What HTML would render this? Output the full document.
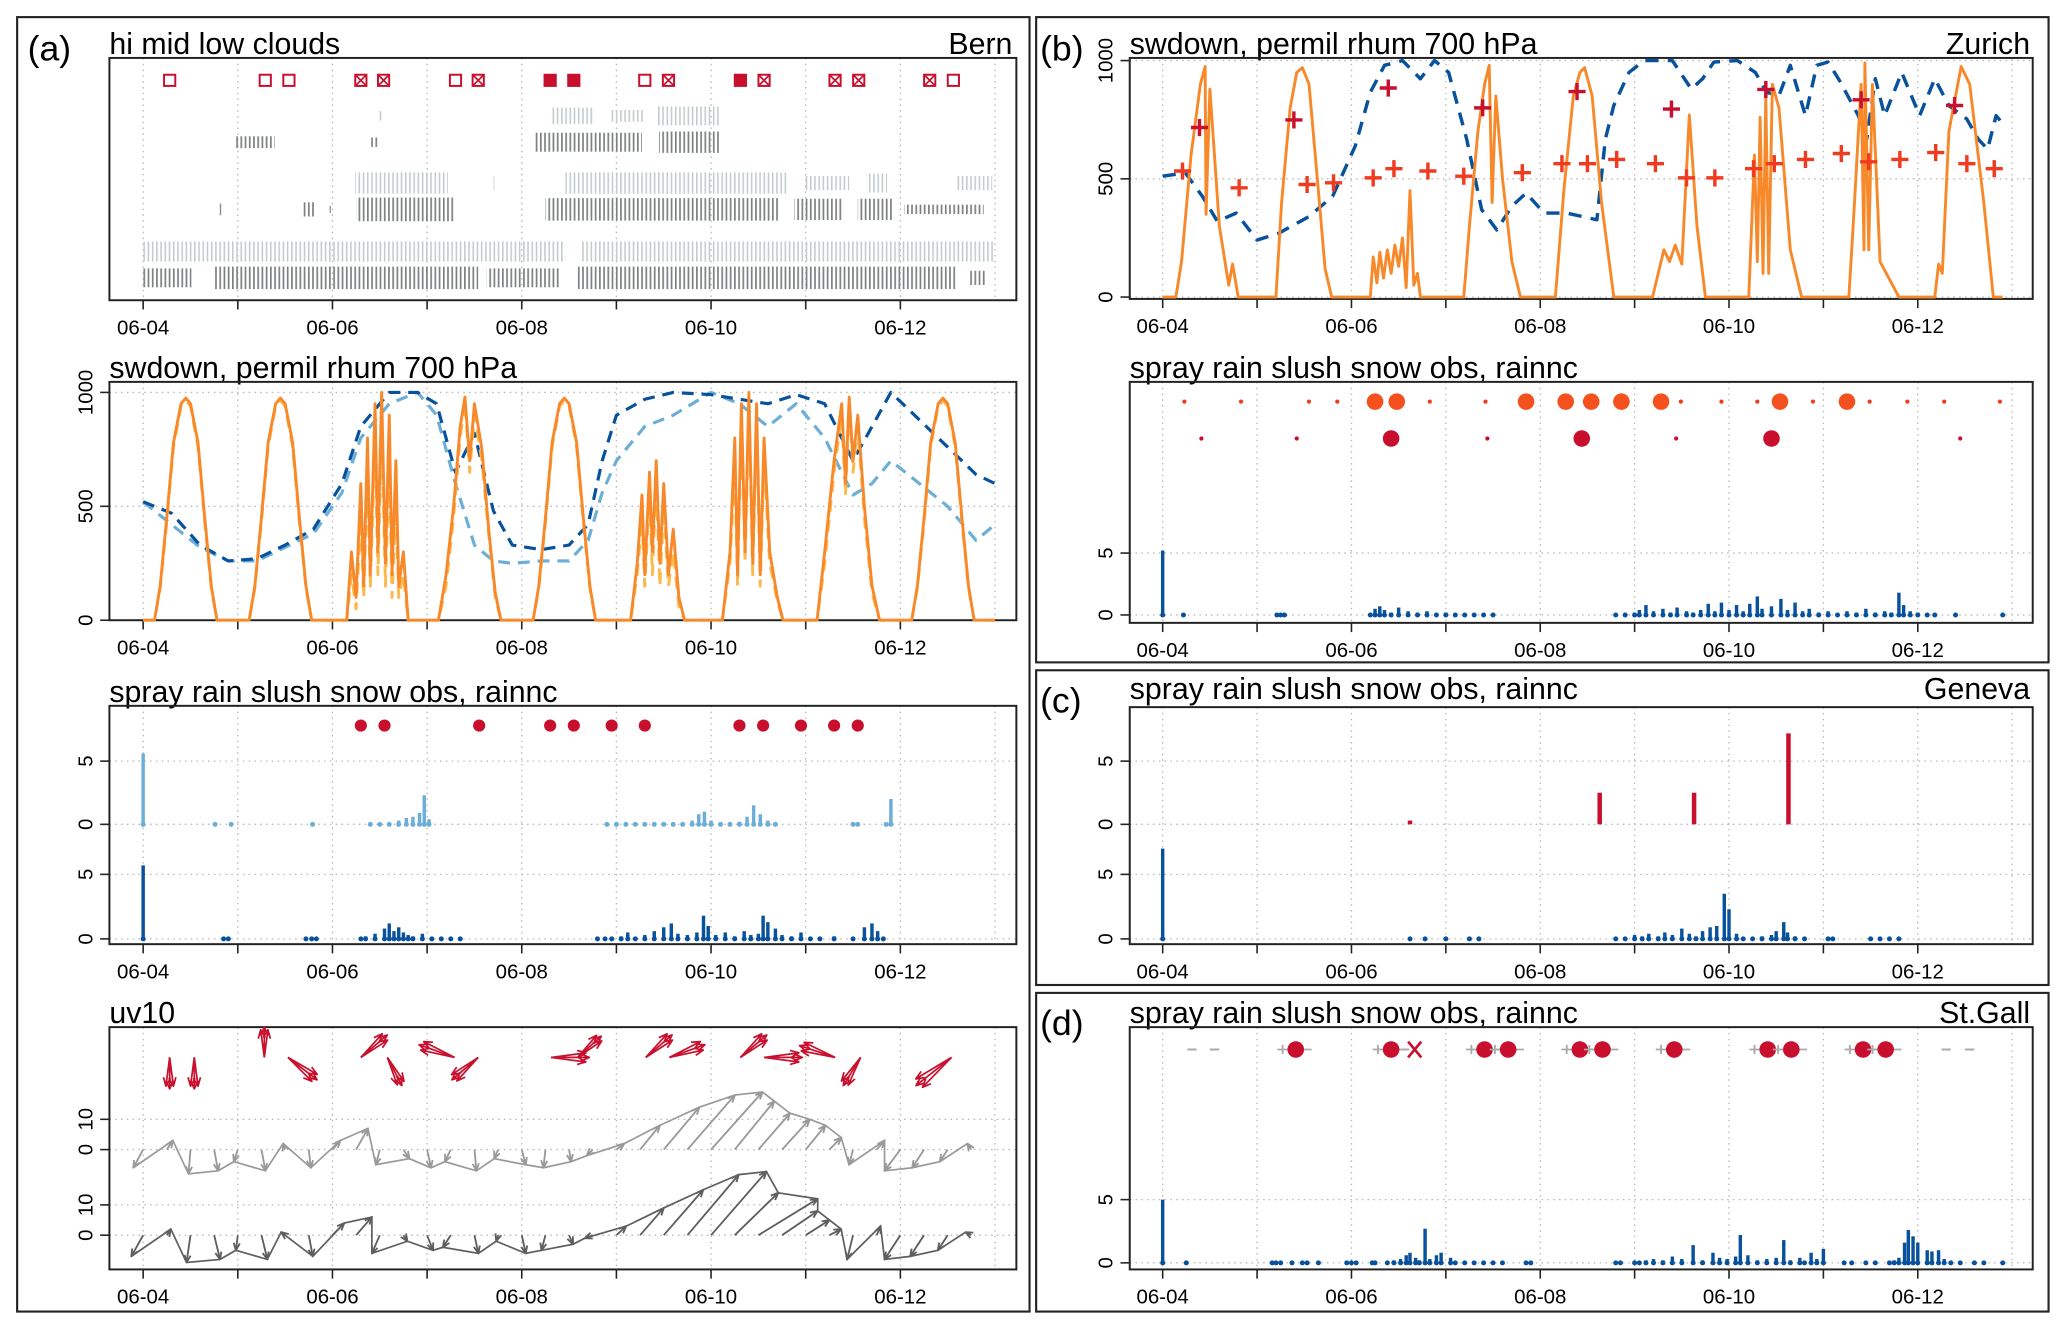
<!DOCTYPE html>
<html><head><meta charset="utf-8"><title>Weather panels</title>
<style>
html,body{margin:0;padding:0;background:#fff;}
svg{display:block;font-family:"Liberation Sans",Arial,sans-serif;}
</style></head>
<body>
<svg id="chart" width="2067" height="1330" viewBox="0 0 1568 1010" preserveAspectRatio="none" xmlns="http://www.w3.org/2000/svg">
<defs>
<pattern id="pl" width="3.2" height="40" patternUnits="userSpaceOnUse"><rect width="1.2" height="40" fill="#c3cccc"/></pattern>
<pattern id="pd" width="3.2" height="40" patternUnits="userSpaceOnUse"><rect width="1.3" height="40" fill="#7d8181"/></pattern>
</defs>
<rect x="0" y="0" width="1568" height="1010" fill="#fff"/>
<rect x="13" y="13" width="768" height="983" fill="none" stroke="#222" stroke-width="1.6"/>
<rect x="786" y="13" width="768" height="490" fill="none" stroke="#222" stroke-width="1.6"/>
<rect x="786" y="509" width="768" height="239" fill="none" stroke="#222" stroke-width="1.6"/>
<rect x="786" y="754" width="768" height="242" fill="none" stroke="#222" stroke-width="1.6"/>
<text x="21" y="46" font-size="27">(a)</text>
<text x="789" y="46" font-size="27">(b)</text>
<text x="789" y="541" font-size="27">(c)</text>
<text x="789" y="786" font-size="27">(d)</text>
<text x="83" y="41" font-size="23">hi mid low clouds</text>
<text x="768" y="41" font-size="23" text-anchor="end">Bern</text>
<text x="83" y="287" font-size="23">swdown, permil rhum 700 hPa</text>
<text x="83" y="533" font-size="23">spray rain slush snow obs, rainnc</text>
<text x="83" y="777" font-size="23">uv10</text>
<text x="857" y="41" font-size="23">swdown, permil rhum 700 hPa</text>
<text x="1540" y="41" font-size="23" text-anchor="end">Zurich</text>
<text x="857" y="287" font-size="23">spray rain slush snow obs, rainnc</text>
<text x="857" y="531" font-size="23">spray rain slush snow obs, rainnc</text>
<text x="1540" y="531" font-size="23" text-anchor="end">Geneva</text>
<text x="857" y="777" font-size="23">spray rain slush snow obs, rainnc</text>
<text x="1540" y="777" font-size="23" text-anchor="end">St.Gall</text>
</svg>
<script>
// ---------------- DATA ----------------
const dateLabels = ["06-04","06-06","06-08","06-10","06-12"];
const dateLabelDays = [0,2,4,6,8];
const swTicks = [0,500,1000];
const rainTicks = [0,5];
const windTicks = [0,10];

// clouds: [startDay, endDay, coverFraction]
const cloudHiLight = [[2.48,2.53,0.4],[4.31,4.77,0.7],[4.93,5.30,0.5],[5.42,6.10,0.8]];
const cloudHiDark = [[0.96,1.39,0.5],[2.40,2.49,0.4],[4.14,5.27,0.8],[5.45,6.10,0.9]];
const cloudMidLight = [[2.24,3.22,0.9],[3.68,3.71,0.6],[4.46,6.81,0.9],[6.98,7.46,0.6],[7.64,7.86,0.8],[8.6,8.97,0.6]];
const cloudMidDark = [[0.81,0.84,0.5],[1.69,1.81,0.6],[1.97,2.0,0.3],[2.25,3.29,1.0],[4.25,6.72,0.95],[6.88,7.40,0.9],[7.55,7.92,0.9],[8.04,8.88,0.4]];
const cloudLowLight = [[0,4.46,0.85],[4.62,9.0,0.85]];
const cloudLowDark = [[0,0.51,0.8],[0.75,3.54,0.95],[3.63,4.40,0.8],[4.59,8.60,0.95],[8.72,8.90,0.6]];
const cloudObsDays = [0.28,1.29,1.54,2.3,2.54,3.3,3.54,4.3,4.55,5.3,5.55,6.31,6.56,7.31,7.56,8.31,8.56];
const cloudObsType = [0,0,0,1,1,0,1,2,2,0,1,2,1,1,1,1,0];

// panel a swdown
const swTimesA = [0,0.12,0.18,0.25,0.32,0.4,0.45,0.5,0.58,0.65,0.72,0.78,
 1.12,1.18,1.25,1.32,1.4,1.45,1.5,1.58,1.65,1.72,1.78,
 2.15,2.2,2.25,2.3,2.33,2.37,2.4,2.45,2.48,2.52,2.56,2.6,2.63,2.67,2.7,2.75,2.8,
 3.12,3.2,3.28,3.35,3.4,3.45,3.5,3.58,3.65,3.72,3.78,
 4.12,4.18,4.25,4.32,4.4,4.45,4.5,4.58,4.65,4.72,4.78,
 5.15,5.22,5.27,5.3,5.35,5.38,5.42,5.46,5.5,5.55,5.6,5.66,5.72,
 6.12,6.2,6.25,6.28,6.32,6.36,6.4,6.44,6.48,6.52,6.56,6.62,6.7,6.76,
 7.12,7.2,7.3,7.38,7.42,7.46,7.5,7.55,7.62,7.7,7.78,
 8.12,8.18,8.25,8.32,8.4,8.45,8.5,8.58,8.65,8.72,8.78,9.0];
const swModelA = [0,0,150,450,780,950,975,950,780,450,150,0,
 0,150,450,780,950,975,950,780,450,150,0,
 0,300,100,600,150,800,200,950,300,1000,250,900,200,700,150,300,0,
 0,200,500,850,980,700,950,750,400,120,0,
 0,150,450,780,950,975,950,780,450,150,0,
 0,250,550,200,650,300,700,250,600,200,400,100,0,
 0,300,800,200,950,300,1000,250,950,200,800,300,100,0,
 0,300,700,950,600,980,700,900,500,150,0,
 0,150,450,780,950,975,950,780,450,150,0,0];
const swModelA2 = [0,0,140,430,760,940,965,940,760,430,140,0,
 0,140,430,760,940,965,940,760,430,140,0,
 0,200,50,450,100,650,150,800,200,850,150,700,100,500,100,200,0,
 0,150,450,800,960,650,900,700,380,100,0,
 0,140,430,760,940,965,940,760,430,140,0,
 0,200,450,150,550,200,600,150,500,150,300,60,0,
 0,250,700,150,900,250,950,200,900,150,700,250,80,0,
 0,250,650,900,550,950,650,850,450,120,0,
 0,140,430,760,940,965,940,760,430,140,0,0];
const rhumTimesA = [0,0.3,0.6,0.9,1.2,1.5,1.8,2.1,2.3,2.6,2.9,3.1,3.3,3.5,3.7,3.9,4.2,4.5,4.7,4.85,5.0,5.3,5.6,6.0,6.3,6.6,6.9,7.2,7.5,7.7,7.9,8.2,8.5,8.8,9.0];
const rhumModelA = [520,470,330,260,270,330,400,600,850,1000,1000,950,650,820,480,330,310,330,420,700,900,970,1000,990,970,950,990,950,700,850,1000,880,760,640,600];
const rhumModelA2 = [520,420,320,260,260,320,380,560,800,950,1000,900,600,330,260,250,260,260,350,560,700,850,900,1000,950,850,950,800,550,600,700,600,500,350,420];

// panel a precipitation: [day, mm]
const rainA1 = [[0,5.6],[0.76,0],[0.93,0],[1.79,0],[2.4,0],[2.5,0],[2.6,0],[2.7,0.3],[2.78,0.5],[2.85,0.6],[2.92,0.9],[2.97,2.3],[3.02,0.4],
 [4.9,0],[5.0,0],[5.1,0],[5.2,0],[5.3,0],[5.4,0],[5.5,0],[5.6,0],[5.7,0],[5.8,0.3],[5.87,0.8],[5.93,1.0],[6.0,0.3],[6.1,0],[6.2,0],[6.3,0.2],[6.38,0.6],[6.45,1.5],[6.52,0.8],[6.6,0.3],[6.68,0],[7.5,0],[7.55,0],[7.9,2.0],[7.85,0]];
const rainA2 = [[0,5.7],[0.85,0],[0.9,0],[1.72,0],[1.78,0],[1.83,0],[2.3,0],[2.35,0.2],[2.45,0.4],[2.55,0.8],[2.6,1.2],[2.65,0.6],[2.7,0.9],[2.75,0.5],[2.8,0.3],[2.85,0.2],[2.95,0.4],[3.05,0.1],[3.15,0],[3.25,0.1],[3.35,0],
 [4.8,0],[4.88,0],[4.95,0.1],[5.05,0.2],[5.12,0.5],[5.2,0.1],[5.3,0.3],[5.4,0.6],[5.5,0.9],[5.58,1.2],[5.65,0.4],[5.75,0.3],[5.85,0.5],[5.92,1.8],[5.97,1.0],[6.05,0.3],[6.15,0.5],[6.25,0.2],[6.35,0.6],[6.42,0.3],[6.5,0.4],[6.55,1.8],[6.6,1.3],[6.68,0.8],[6.75,0.3],[6.85,0.2],[6.95,0.5],[7.05,0.1],[7.15,0],[7.3,0.2],[7.5,0.1],[7.62,0.9],[7.7,1.2],[7.76,0.6],[7.82,0]];
const sprayDaysA = [2.3,2.55,3.55,4.3,4.55,4.95,5.3,6.3,6.55,6.95,7.3,7.55];

// panel a wind sticks (every 6 h, m/s)
const windDays = [0,0.25,0.5,0.75,1,1.25,1.5,1.75,2,2.25,2.5,2.75,3,3.25,3.5,3.75,4,4.25,4.5,4.75,5,5.25,5.5,5.75,6,6.25,6.5,6.75,7,7.25,7.5,7.75,8,8.25,8.5,8.75];
const wind1U = [-5,3,-1,2,-2,2,-1,1,4,6,-2,3,2,-3,1,-2,2,-1,1,-3,4,10,18,24,26,20,16,14,10,6,-2,4,-8,-6,-4,-2];
const wind1V = [-6,3,-8,-7,-4,-7,2,-6,3,7,-5,-3,-6,-4,-7,-3,-5,-6,-4,-2,2,8,14,18,19,16,12,10,8,4,-5,3,-7,-6,-4,2];
const wind2U = [-6,2,-2,3,-1,3,-2,2,6,8,-4,2,3,-4,2,-1,2,-2,2,-4,5,12,20,26,28,22,30,18,12,6,-3,2,-8,-7,-5,-3];
const wind2V = [-7,2,-9,-8,-5,-8,1,-7,4,6,-6,-2,-5,-4,-6,-2,-6,-5,-3,-1,3,9,15,20,21,14,12,8,5,2,-8,3,-8,-7,-5,1];
const obsWindDays = [0.28,0.54,1.28,1.53,2.3,2.58,3.29,3.54,4.31,4.59,5.31,5.56,6.31,6.56,7.31,7.58,8.54];
const obsWindU = [0,0,0,9.6,8.7,4.8,-11.7,-8.7,12.6,7.8,8.7,11.7,8.7,12.6,-11.7,-5.7,-11.7];
const obsWindV = [-10.4,-10.4,10,-7.4,7.4,-9.3,4.2,-7.4,0,7,7.4,4.2,7.4,0,3.9,-9.3,-9.3];

// panel b Zurich swdown
const swTimesB = [0,0.14,0.2,0.3,0.4,0.45,0.46,0.5,0.6,0.7,0.74,0.8,
 1.2,1.26,1.35,1.42,1.48,1.55,1.65,1.72,1.79,
 2.2,2.23,2.27,2.3,2.34,2.38,2.42,2.46,2.5,2.54,2.58,2.62,2.66,2.7,2.73,2.76,
 3.19,3.25,3.34,3.41,3.46,3.49,3.53,3.6,3.7,3.79,
 4.16,4.25,4.35,4.42,4.47,4.55,4.65,4.78,
 5.19,5.31,5.37,5.43,5.5,5.58,5.66,5.75,
 6.21,6.27,6.3,6.33,6.36,6.39,6.42,6.46,6.53,6.65,6.77,
 7.27,7.3,7.33,7.4,7.43,7.44,7.48,7.52,7.6,7.8,
 8.18,8.22,8.26,8.33,8.46,8.55,8.7,8.8,8.9];
const swModelB = [0,0,150,600,900,975,350,880,300,50,140,0,
 0,400,800,950,970,900,450,120,0,
 0,170,60,190,80,200,100,220,130,250,40,450,50,100,0,0,
 0,300,700,900,980,400,850,500,150,0,
 0,450,850,950,970,850,400,0,
 0,200,150,220,140,770,300,0,
 0,600,150,760,100,850,100,900,800,200,0,
 0,200,400,900,200,990,200,900,150,0,
 0,140,100,700,975,900,400,0,0];
const rhumTimesB = [0,0.24,0.42,0.58,0.78,1.0,1.23,1.55,1.8,2.04,2.2,2.35,2.54,2.73,2.88,3.03,3.22,3.38,3.54,3.7,3.85,4.04,4.28,4.6,4.69,4.78,4.94,5.1,5.4,5.6,5.72,5.84,6.09,6.28,6.4,6.53,6.65,6.81,6.93,7.05,7.18,7.37,7.46,7.55,7.65,7.83,8.02,8.18,8.33,8.52,8.64,8.74,8.83,8.89];
const rhumModelB = [511,525,426,320,355,241,270,341,426,639,866,980,1000,923,1000,950,668,369,284,384,440,355,355,327,668,810,950,1000,1000,880,923,994,1000,950,866,852,980,767,980,994,909,767,668,923,767,950,767,923,810,753,668,625,767,739];
const rhumObsDaysB = [0.21,0.81,1.53,1.81,2.23,2.45,2.81,3.19,3.81,4.23,4.5,4.81,5.22,5.55,5.85,6.26,6.48,6.81,7.19,7.48,7.81,8.19,8.52,8.81];
const rhumObsB = [533,462,476,483,504,543,533,511,526,564,564,582,564,504,504,543,564,582,607,572,582,611,564,543];
const rhumObs2DaysB = [0.39,1.39,2.39,3.39,4.39,5.39,6.39,7.4,8.39];
const rhumObs2B = [717,749,884,800,869,795,878,834,810];

// panel b spray observations
const sprayBSmall = [0.23,0.83,1.55,1.85,2.83,3.42,5.49,5.92,6.3,6.89,7.49,7.89,8.28,8.87];
const sprayBLarge = [2.25,2.48,3.85,4.27,4.54,4.86,5.28,6.54,7.25];
const sprayB2Small = [0.41,1.42,3.44,5.44,8.45];
const sprayB2Large = [2.42,4.44,6.45];
const rainB = [[0,5.2],[0.22,0],[1.21,0],[1.25,0],[1.29,0],[2.2,0],[2.25,0.5],[2.3,0.7],[2.35,0.4],[2.42,0.2],[2.5,0.6],[2.6,0.3],[2.7,0.2],[2.8,0.3],[2.9,0.1],[3.0,0.2],[3.1,0.1],[3.2,0],[3.3,0],[3.4,0],[3.5,0],
 [4.8,0],[4.9,0],[5.0,0.2],[5.05,0.4],[5.12,0.8],[5.2,0.3],[5.3,0.5],[5.38,0.2],[5.45,0.6],[5.55,0.3],[5.62,0.2],[5.7,0.4],[5.78,0.9],[5.85,0.3],[5.92,1.0],[6.0,0.4],[6.08,0.8],[6.15,0.3],[6.22,0.9],[6.3,1.5],[6.35,0.5],[6.45,0.7],[6.55,1.3],[6.62,0.4],[6.7,1.0],[6.78,0.3],[6.85,0.5],[6.95,0.2],[7.05,0.3],[7.15,0.1],[7.25,0.3],[7.35,0.2],[7.45,0.5],[7.55,0.2],[7.65,0.3],[7.72,0.2],[7.8,1.8],[7.85,0.8],[7.92,0.3],[8.0,0.2],[8.1,0.1],[8.18,0],[8.4,0],[8.9,0]];

// panel c Geneva
const rainC = [[0,7.0],[2.62,0],[2.78,0],[3.0,0],[3.25,0],[3.35,0],[4.8,0],[4.9,0],[5.0,0.3],[5.08,0.2],[5.15,0.4],[5.25,0.2],[5.32,0.5],[5.4,0.3],[5.5,0.8],[5.58,0.4],[5.65,0.2],[5.72,0.6],[5.8,0.9],[5.87,1.0],[5.95,3.5],[6.0,2.3],[6.08,0.4],[6.15,0],[6.25,0],[6.35,0.2],[6.45,0.3],[6.5,0.6],[6.58,1.3],[6.62,0.5],[6.7,0.2],[6.8,0],[7.05,0],[7.1,0],[7.5,0],[7.6,0],[7.7,0],[7.8,0]];
const redRainC = [[2.62,0.3],[4.63,2.5],[5.63,2.5],[6.63,7.2]];

// panel d St.Gall
const sprayDRed = [1.41,2.42,3.41,3.66,4.42,4.66,5.42,6.41,6.66,7.42,7.66];
const sprayDCross = [2.67];
const sprayDDash = [0.31,0.55,8.3,8.55];
const rainD = [[0,5.0],[0.25,0],[1.16,0],[1.2,0],[1.25,0],[1.37,0],[1.48,0],[1.53,0],[1.65,0],[1.95,0],[2.0,0],[2.05,0],[2.22,0],[2.25,0],[2.38,0],[2.45,0.2],[2.52,0.3],[2.58,0.6],[2.62,0.8],[2.68,0.4],[2.72,0.2],[2.78,2.7],[2.83,0.3],[2.9,0.6],[2.95,0.8],[3.05,0.4],[3.1,0],[3.2,0],[3.3,0],[3.4,0],[3.5,0],[3.6,0],[3.85,0],[3.9,0],
 [4.8,0],[4.85,0],[5.0,0],[5.05,0],[5.12,0.2],[5.2,0.3],[5.3,0.2],[5.4,0.5],[5.5,0.3],[5.62,1.4],[5.72,0.2],[5.83,0.8],[5.9,0.4],[5.98,0.3],[6.07,0.5],[6.12,2.2],[6.2,0.6],[6.3,0.2],[6.4,0.3],[6.5,0.4],[6.58,1.8],[6.65,0.2],[6.75,0.4],[6.8,0],[6.87,0.8],[6.93,0.3],[7.0,1.1],[7.22,0],[7.3,0],[7.45,0],[7.55,0],[7.7,0],[7.75,0.2],[7.8,0.4],[7.86,1.6],[7.9,2.6],[7.95,2.1],[8.0,1.6],[8.1,1.0],[8.15,0.9],[8.22,1.0],[8.28,0.3],[8.35,0],[8.45,0],[8.6,0],[8.7,0],[8.9,0]];

// ---------------- DRAWING ----------------
const NS = 'http://www.w3.org/2000/svg';
const svg = document.getElementById('chart');
function mk(tag, attrs, parent) {
  const e = document.createElementNS(NS, tag);
  for (const k in attrs) e.setAttribute(k, attrs[k]);
  (parent || svg).appendChild(e);
  return e;
}
function grp(name) {
  const g = mk('g', {});
  
  
  return g;
}
const PA = {x0:108.6, dx:71.8, left:83, right:771};
const PB = {x0:882, dx:71.6, left:857, right:1542};
function X(p, d) { return p.x0 + p.dx * d; }
function lin(v0, y0, v1, y1) { return v => y0 + (v - v0) * (y1 - y0) / (v1 - v0); }

function frame(p, top, bottom, name, yAxes) {
  const g = grp(name + '-axes');
  for (let d = 0; d <= 9; d++) {
    const gl = mk('line', {x1:X(p,d), x2:X(p,d), y1:top, y2:bottom, stroke:'#bbb', 'stroke-width':1, 'stroke-dasharray':'1.2,3.2'}, g);
    
    
  }
  (yAxes || []).forEach(ax => {
    ax.ticks.forEach((t, i) => {
      const y = ax.scale(t);
      const hl = mk('line', {x1:p.left, x2:p.right, y1:y, y2:y, stroke:'#bbb', 'stroke-width':1, 'stroke-dasharray':'1.2,3.2'}, g);
      
      
      const tk = mk('line', {x1:p.left - 7, x2:p.left, y1:y, y2:y, stroke:'#222', 'stroke-width':1.2}, g);
      
      
      const lb = mk('text', {x:p.left - 13, y:y, 'font-size':15.5, 'text-anchor':'middle', transform:`rotate(-90 ${p.left - 13} ${y})`}, g);
      
      
      lb.textContent = String(t);
    });
  });
  const box = mk('rect', {x:p.left, y:top, width:p.right - p.left, height:bottom - top, fill:'none', stroke:'#222', 'stroke-width':1.5}, g);
  
  
  for (let d = 0; d <= 8; d++) {
    const t = mk('line', {x1:X(p,d), x2:X(p,d), y1:bottom, y2:bottom + 7, stroke:'#222', 'stroke-width':1.2}, g);
    
    
  }
  dateLabelDays.forEach((d, i) => {
    const t = mk('text', {x:X(p,d), y:bottom + 26, 'font-size':15.5, 'text-anchor':'middle'}, g);
    
    
    t.textContent = dateLabels[i];
  });
}

function line(p, times, vals, ys, color, width, dash, name) {
  const pts = times.map((t, i) => X(p, t).toFixed(1) + ',' + ys(vals[i]).toFixed(1)).join(' ');
  const pl = mk('polyline', {points:pts, fill:'none', stroke:color, 'stroke-width':width, 'stroke-linejoin':'round'});
  if (dash) pl.setAttribute('stroke-dasharray', dash);
  
  
}

function rainBars(p, data, ys, color, name) {
  const g = grp(name);
  data.forEach(([t, v]) => {
    const x = X(p, t);
    if (v > 0) {
      const b = mk('line', {x1:x, x2:x, y1:ys(0), y2:ys(v), stroke:color, 'stroke-width':2.6}, g);
      
      
    }
    const c = mk('circle', {cx:x, cy:ys(0), r:1.9, fill:color}, g);
    
    
  });
}

function arrow(g, x1, y1, x2, y2, color, w, head, name) {
  const a = Math.atan2(y2 - y1, x2 - x1);
  const d = `M${x1},${y1}L${x2},${y2}M${x2 - head*Math.cos(a - 0.4)},${y2 - head*Math.sin(a - 0.4)}L${x2},${y2}L${x2 - head*Math.cos(a + 0.4)},${y2 - head*Math.sin(a + 0.4)}`;
  const pth = mk('path', {d:d, stroke:color, 'stroke-width':w, fill:'none', 'stroke-linejoin':'round'}, g);
  
  
}

// ===== Panel A1: clouds =====
frame(PA, 44, 228, 'clouds', []);
const cloudRows = [[cloudHiLight, 88, 'url(#pl)', 'cloud-hi-model'], [cloudHiDark, 108, 'url(#pd)', 'cloud-hi-obs'],
  [cloudMidLight, 139, 'url(#pl)', 'cloud-mid-model'], [cloudMidDark, 159, 'url(#pd)', 'cloud-mid-obs'],
  [cloudLowLight, 191, 'url(#pl)', 'cloud-low-model'], [cloudLowDark, 211, 'url(#pd)', 'cloud-low-obs']];
cloudRows.forEach(([rows, yc, fill, nm]) => {
  const g = grp(nm);
  rows.forEach(([s, e, f]) => {
    const h = 9 * f;
    const r = mk('rect', {x:X(PA, s), y:yc - h, width:Math.max(1.5, X(PA, e) - X(PA, s)), height:2 * h, fill:fill}, g);
    
    
  });
});
{
  const g = grp('cloud-obs-markers');
  cloudObsDays.forEach((d, i) => {
    const x = X(PA, d), y = 61, s = 8.5;
    const r = mk('rect', {x:x - s/2, y:y - s/2, width:s, height:s, fill:cloudObsType[i] === 2 ? '#c8102e' : '#fff', stroke:'#c8102e', 'stroke-width':1.5}, g);
    
    
    if (cloudObsType[i] === 1) {
      const c = mk('path', {d:`M${x - s/2},${y - s/2}L${x + s/2},${y + s/2}M${x + s/2},${y - s/2}L${x - s/2},${y + s/2}`, stroke:'#c8102e', 'stroke-width':1.3}, g);
      
      
    }
  });
}

// ===== Panel A2: swdown =====
const ysA2 = lin(0, 471, 1000, 298);
frame(PA, 290, 471, 'swdown-a', [{ticks:swTicks, scale:ysA2}]);
line(PA, rhumTimesA, rhumModelA2, ysA2, '#6baed6', 2.4, '9,6', 'rhum-model-light');
line(PA, rhumTimesA, rhumModelA, ysA2, '#08519c', 2.4, '9,6', 'rhum-model-dark');
line(PA, swTimesA, swModelA2, ysA2, '#fdb84a', 2.2, '9,6', 'swdown-model-light');
line(PA, swTimesA, swModelA, ysA2, '#f7892a', 2.2, null, 'swdown-model');

// ===== Panel A3: spray + rain =====
const ysA3u = lin(0, 626, 5, 578), ysA3l = lin(0, 713, 5, 664);
frame(PA, 536, 717, 'spray-a', [{ticks:rainTicks, scale:ysA3u}, {ticks:rainTicks, scale:ysA3l}]);
rainBars(PA, rainA1, ysA3u, '#6baed6', 'rainnc-a-model-1');
rainBars(PA, rainA2, ysA3l, '#08519c', 'rainnc-a-model-2');
{
  const g = grp('spray-a-obs');
  sprayDaysA.forEach(d => {
    const c = mk('circle', {cx:X(PA, d), cy:551, r:4.6, fill:'#c8102e'}, g);
    
    
  });
}

// ===== Panel A4: uv10 =====
const ysW1 = lin(0, 873, 10, 850), ysW2 = lin(0, 938, 10, 915);
frame(PA, 780, 964, 'uv10', [{ticks:windTicks, scale:ysW1}, {ticks:windTicks, scale:ysW2}]);
{
  const k = 2.3, ku = 1.5;
  const g1 = grp('wind-model-1');
  windDays.forEach((d, i) => { const x = X(PA, d), y = ysW1(0); arrow(g1, x, y, x + wind1U[i]*ku, y - wind1V[i]*k, '#9a9a9a', 1.4, 6, 'wind-stick'); });
  const tip1 = mk('polyline', {points:windDays.map((d, i) => (X(PA, d) + wind1U[i]*ku).toFixed(1) + ',' + (ysW1(0) - wind1V[i]*k).toFixed(1)).join(' '), stroke:'#9a9a9a', 'stroke-width':1.3, fill:'none'}, g1);
  
  
  const g2 = grp('wind-model-2');
  windDays.forEach((d, i) => { const x = X(PA, d), y = ysW2(0); arrow(g2, x, y, x + wind2U[i]*ku, y - wind2V[i]*k, '#5f5f5f', 1.4, 6, 'wind-stick'); });
  const tip2 = mk('polyline', {points:windDays.map((d, i) => (X(PA, d) + wind2U[i]*ku).toFixed(1) + ',' + (ysW2(0) - wind2V[i]*k).toFixed(1)).join(' '), stroke:'#5f5f5f', 'stroke-width':1.3, fill:'none'}, g2);
  
  
  const g3 = grp('wind-obs');
  obsWindDays.forEach((d, i) => {
    const x = X(PA, d), y = 803, ang = Math.atan2(-obsWindV[i], obsWindU[i]), len = Math.hypot(obsWindU[i], obsWindV[i]) * k;
    [-0.13, 0, 0.13].forEach((o, j) => {
      const l = len * (j === 1 ? 1 : 0.92);
      arrow(g3, x, y, x + l*Math.cos(ang + o), y + l*Math.sin(ang + o), '#c8102e', 1.3, 7, 'wind-obs-arrow');
    });
  });
}

// ===== Panel B1: Zurich swdown =====
const ysB1 = lin(0, 225.6, 1000, 46);
frame(PB, 44, 227, 'swdown-b', [{ticks:swTicks, scale:ysB1}]);
line(PB, rhumTimesB, rhumModelB, ysB1, '#08519c', 2.6, '10,7', 'rhum-model-b');
line(PB, swTimesB, swModelB, ysB1, '#f7892a', 2.2, null, 'swdown-model-b');
{
  const g = grp('rhum-obs-b');
  const plus = (d, v, col, s) => {
    const x = X(PB, d), y = ysB1(v);
    const p = mk('path', {d:`M${x - s},${y}L${x + s},${y}M${x},${y - s}L${x},${y + s}`, stroke:col, 'stroke-width':2.6}, g);
    
    
  };
  rhumObsDaysB.forEach((d, i) => plus(d, rhumObsB[i], '#f03b20', 6.5));
  rhumObs2DaysB.forEach((d, i) => plus(d, rhumObs2B[i], '#c8102e', 6.5));
}

// ===== Panel B2: spray Zurich =====
const ysB2 = lin(0, 467, 5, 420);
frame(PB, 290, 473, 'spray-b', [{ticks:rainTicks, scale:ysB2}]);
rainBars(PB, rainB, ysB2, '#08519c', 'rainnc-b');
{
  const g = grp('spray-b-obs');
  const dot = (d, y, r, col) => {
    const c = mk('circle', {cx:X(PB, d), cy:y, r:r, fill:col}, g);
    
    
  };
  sprayBSmall.forEach(d => dot(d, 305, 1.6, '#f03b20'));
  sprayBLarge.forEach(d => dot(d, 305, 6.3, '#f4511e'));
  sprayB2Small.forEach(d => dot(d, 333, 1.6, '#c8102e'));
  sprayB2Large.forEach(d => dot(d, 333, 6.3, '#c8102e'));
}

// ===== Panel C: Geneva =====
const ysCu = lin(0, 626, 5, 578), ysCl = lin(0, 713, 5, 664);
frame(PB, 537, 717, 'spray-c', [{ticks:rainTicks, scale:ysCu}, {ticks:rainTicks, scale:ysCl}]);
rainBars(PB, rainC, ysCl, '#08519c', 'rainnc-c');
{
  const g = grp('rain-obs-c');
  redRainC.forEach(([t, v]) => {
    const b = mk('line', {x1:X(PB, t), x2:X(PB, t), y1:ysCu(0), y2:ysCu(v), stroke:'#c8102e', 'stroke-width':3.4}, g);
    
    
  });
}

// ===== Panel D: St.Gall =====
const ysD = lin(0, 959, 5, 911);
frame(PB, 780, 964, 'spray-d', [{ticks:rainTicks, scale:ysD}]);
rainBars(PB, rainD, ysD, '#08519c', 'rainnc-d');
{
  const g = grp('spray-d-obs');
  const y = 797;
  sprayDDash.forEach(d => {
    const l = mk('line', {x1:X(PB, d) - 3.5, x2:X(PB, d) + 3.5, y1:y, y2:y, stroke:'#aaa', 'stroke-width':1.5}, g);
    
    
  });
  sprayDRed.forEach(d => {
    const x = X(PB, d);
    const gp = mk('path', {d:`M${x - 14},${y}L${x + 12},${y}M${x - 10},${y - 3.5}L${x - 10},${y + 3.5}`, stroke:'#aaa', 'stroke-width':1.4}, g);
    
    
    const c = mk('circle', {cx:x, cy:y, r:6.3, fill:'#c8102e'}, g);
    
    
  });
  sprayDCross.forEach(d => {
    const x = X(PB, d);
    const gp = mk('path', {d:`M${x - 10},${y}L${x - 4},${y}`, stroke:'#aaa', 'stroke-width':1.4}, g);
    
    
    const c = mk('path', {d:`M${x - 5},${y - 6}L${x + 5},${y + 6}M${x + 5},${y - 6}L${x - 5},${y + 6}`, stroke:'#c8102e', 'stroke-width':2}, g);
    
    
  });
}
</script>
</body></html>
